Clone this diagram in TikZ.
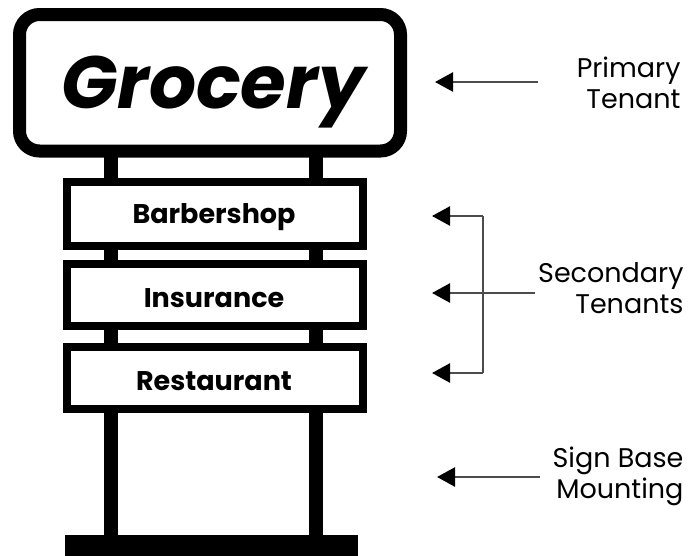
\documentclass[tikz,border=0pt]{standalone}
\usepackage{fontspec}
\setmainfont{Poppins}
\usetikzlibrary{arrows.meta}

\tikzset{
  post/.style={fill=black},
  panel/.style={draw=black, fill=white, line width=8},
  panellabel/.style={anchor=base, font=\fontsize{27}{30}\selectfont\bfseries},
  sidelabel/.style={anchor=base east, align=right, font=\fontsize{27}{31}\selectfont},
  pointer/.style={draw=black!70, line width=2.5, -{Triangle[length=18,width=19,color=black]}}
}

\begin{document}
\begin{tikzpicture}[x=1pt,y=-1pt]
\useasboundingbox (0,0) rectangle (693,555);

% posts and base
\fill [post] (104,150) rectangle (118,540);
\fill [post] (309,150) rectangle (323,540);
\fill [post] (65,535) rectangle (358,560);

% primary tenant
\draw [black, fill=white, line width=13, rounded corners=20] (19.5,14.5) rectangle (400.5,151);
\node (grocery) [anchor=base, font=\fontsize{74}{80}\selectfont\bfseries\itshape] at (213,108) {Grocery};

% secondary tenants
\draw [panel] (67,182) rectangle (363,246);
\node (barber) [panellabel] at (214,223) {Barbershop};

\draw [panel] (67,264) rectangle (363,326);
\node (insure) [panellabel] at (214,307) {Insurance};

\draw [panel] (67,347) rectangle (363,409);
\node (resto) [panellabel] at (214,390) {Restaurant};

% labels on the right (base = last line)
\node (primary) [sidelabel] at (684,108) {Primary\\Tenant};
\node (secondary) [sidelabel] at (687,313) {Secondary\\Tenants};
\node (mounting) [sidelabel] at (687,498) {Sign Base\\Mounting};

% arrow ends
\coordinate (primaryTail) at (538,82);
\coordinate (primaryTip) at (435,82);
\coordinate (bracketTop) at (483,216);
\coordinate (bracketBot) at (483,373);
\coordinate (secondaryTail) at (535,293);
\coordinate (topTip) at (432,216);
\coordinate (midTip) at (432,293);
\coordinate (botTip) at (432,373);
\coordinate (baseTail) at (540,477);
\coordinate (baseTip) at (437,477);

% arrows
\draw [pointer] (primaryTail)--(primaryTip);
\draw [draw=black!70, line width=2] (bracketTop)--(bracketBot);
\draw [pointer] (bracketTop)--(topTip);
\draw [pointer] (secondaryTail)--(midTip);
\draw [pointer] (bracketBot)--(botTip);
\draw [pointer] (baseTail)--(baseTip);

\end{tikzpicture}
\end{document}
